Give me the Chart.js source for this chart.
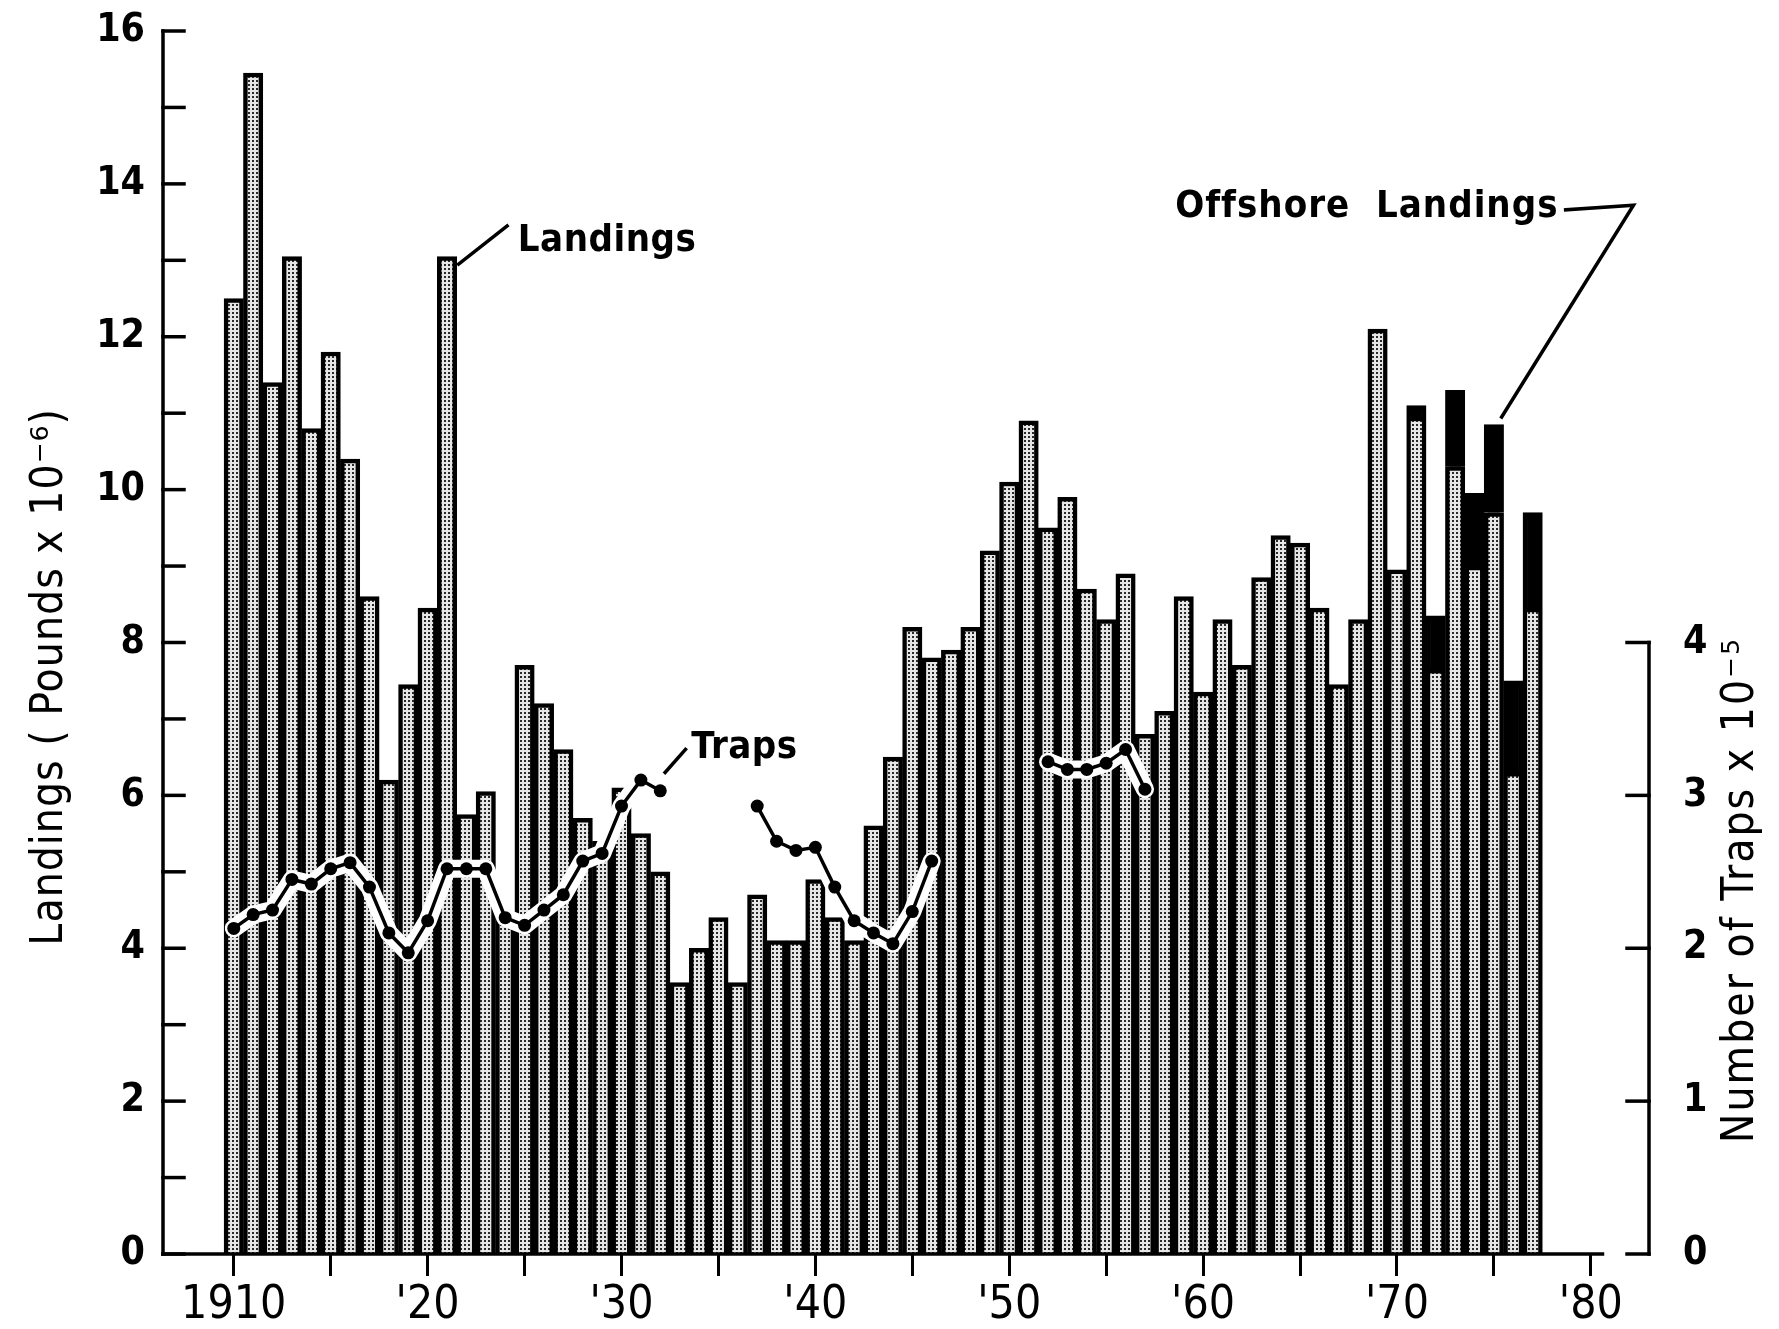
<!DOCTYPE html>
<html>
<head>
<meta charset="utf-8">
<script src="https://cdn.jsdelivr.net/npm/chart.js@4.4.0/dist/chart.umd.min.js"></script>
<style>
  html, body { margin: 0; padding: 0; background: #fff; }
  #wrap { width: 1779px; height: 1329px; }
</style>
</head>
<body>
<div id="wrap"><canvas id="chart" width="1779" height="1329"></canvas></div>
<script>
// years on the x axis
const years = [1910,1911,1912,1913,1914,1915,1916,1917,1918,1919,
               1920,1921,1922,1923,1924,1925,1926,1927,1928,1929,
               1930,1931,1932,1933,1934,1935,1936,1937,1938,1939,
               1940,1941,1942,1943,1944,1945,1946,1947,1948,1949,
               1950,1951,1952,1953,1954,1955,1956,1957,1958,1959,
               1960,1961,1962,1963,1964,1965,1966,1967,1968,1969,
               1970,1971,1972,1973,1974,1975,1976,1977];

// landings, pounds x 10^-6 (stippled part)
const landings = [12.5,15.45,11.4,13.05,10.8,11.8,10.4,8.6,6.2,7.45,
                  8.45,13.05,5.75,6.05,4.45,7.7,7.2,6.6,5.7,5.4,
                  6.1,5.5,5.0,3.55,4.0,4.4,3.55,4.7,4.1,4.1,
                  4.9,4.4,4.1,5.6,6.5,8.2,7.8,7.9,8.2,9.2,
                  10.1,10.9,9.5,9.9,8.7,8.3,8.9,6.8,7.1,8.6,
                  7.35,8.3,7.7,8.85,9.4,9.3,8.45,7.45,8.3,12.1,
                  8.95,10.95,7.65,10.3,9.0,9.7,6.3,8.45];

// offshore landings stacked on top (black)
const offshoreYears = [1971,1972,1973,1974,1975,1976,1977];
const offshore = [0.15,0.7,1.0,0.95,1.15,1.2,1.25];

// number of traps x 10^-5, gaps where no data
const traps = [2.13,2.22,2.25,2.45,2.42,2.52,2.56,2.4,2.1,1.97,
               2.18,2.52,2.52,2.52,2.2,2.15,2.25,2.35,2.57,2.62,
               2.93,3.1,3.03,null,null,null,null,2.93,2.7,2.64,
               2.66,2.4,2.18,2.1,2.03,2.24,2.57,null,null,null,
               null,null,3.22,3.17,3.17,3.21,3.3,3.04,null,null,
               null,null,null,null,null,null,null,null,null,null,
               null,null,null,null,null,null,null,null];

// tick labels
const decades = [1910,1920,1930,1940,1950,1960,1970,1980];
const decadeLabels = ["1910","'20","'30","'40","'50","'60","'70","'80"];
const landingTicks = [0,2,4,6,8,10,12,14,16];
const trapTicks = [0,1,2,3,4];

const canvas = document.getElementById("chart");
const ctx0 = canvas.getContext("2d");
const FAMILY = "'DejaVu Sans Condensed', 'DejaVu Sans', sans-serif";

/* dotted stipple like the old halftone fill */
function stipple(){
    let c = document.createElement("canvas");
    c.width = 4; c.height = 4;
    let g = c.getContext("2d");
    g.fillStyle = "#e6e6e6";
    g.fillRect(0,0,4,4);
    g.fillStyle = "#2a2a2a";
    g.fillRect(0,0,2,2);
    return ctx0.createPattern(c,"repeat");
}

const tickFont = {family:FAMILY, size:39, weight:"bold"};
const yearFont = {family:FAMILY, size:46};

let trapPoints = years.map((y,i)=>({x:y, y:traps[i]}));

/* axes, inward ticks, titles and the hand-lettered notes */
const frame = {
    id: "frame",
    afterDraw(chart){
        const {ctx, chartArea:a} = chart;
        const x = chart.scales.x, y = chart.scales.y, y2 = chart.scales.y2;
        const line = (x1,y1,x2,y2_)=>{ ctx.beginPath(); ctx.moveTo(x1,y1); ctx.lineTo(x2,y2_); ctx.stroke(); };
        const px = v=>x.getPixelForValue(v), py = v=>y.getPixelForValue(v);
        ctx.save();
        ctx.strokeStyle = "#000";
        ctx.lineWidth = 3.5;
        ctx.lineCap = "square";

        // left axis
        line(a.left, py(0), a.left, py(16));
        y.ticks.forEach(t=>{
            let ty = py(t.value);
            line(a.left, ty, a.left+21, ty);
        });
        // bottom axis
        line(a.left, py(0), px(1980.6), py(0));
        // right axis, only 0..4
        line(a.right, y2.getPixelForValue(0), a.right, y2.getPixelForValue(4));
        y2.ticks.filter(t=>t.value<=4).forEach(t=>{
            let ty = y2.getPixelForValue(t.value);
            line(a.right-22, ty, a.right, ty);
        });

        // axis titles
        ctx.fillStyle = "#000";
        ctx.textAlign = "center";
        ctx.textBaseline = "middle";
        ctx.font = "44px " + FAMILY;
        ctx.letterSpacing = "1px";
        ctx.save();
        ctx.translate(a.left-112, py(7.55));
        ctx.rotate(-Math.PI/2);
        ctx.fillText("Landings ( Pounds x 10\u207B\u2076)", 0, 0);
        ctx.restore();
        ctx.letterSpacing = "2px";
        ctx.save();
        ctx.translate(a.right+93, y2.getPixelForValue(2.38));
        ctx.rotate(-Math.PI/2);
        ctx.fillText("Number of Traps x 10\u207B\u2075", 0, 0);
        ctx.restore();

        // notes
        ctx.textAlign = "left";
        ctx.font = "bold 38px " + FAMILY;
        ctx.letterSpacing = "0.5px";
        ctx.fillText("Landings", px(1924.65), py(13.25));
        line(px(1921.6), py(12.95), px(1924.1), py(13.45));

        ctx.fillText("Traps", px(1933.6), py(6.62));
        line(px(1932.25), py(6.3), px(1933.3), py(6.6));

        ctx.letterSpacing = "1px";
        ctx.fillText("Offshore  Landings", px(1958.56), py(13.7));
        ctx.beginPath();
        ctx.moveTo(px(1978.7), py(13.66));
        ctx.lineTo(px(1982.2), py(13.72));
        ctx.lineTo(px(1975.4), py(10.95));
        ctx.stroke();
        ctx.restore();
    }
};

new Chart(canvas, {
    data: {
        datasets: [
            {
                type: "line",
                label: "Traps",
                data: trapPoints,
                yAxisID: "y2",
                borderColor: "#000",
                borderWidth: 3.5,
                pointRadius: 6.5,
                pointBackgroundColor: "#000",
                pointBorderWidth: 0,
                spanGaps: false,
                order: 0
            },
            {
                type: "line",
                label: "halo",
                data: trapPoints,
                yAxisID: "y2",
                borderColor: "#fff",
                borderWidth: 18,
                borderCapStyle: "round",
                borderJoinStyle: "round",
                pointRadius: 0,
                spanGaps: false,
                order: 1
            },
            {
                type: "bar",
                label: "Landings",
                data: years.map((y,i)=>({x:y, y:landings[i]})),
                yAxisID: "y",
                backgroundColor: stipple(),
                borderColor: "#000",
                borderWidth: 4.5,
                borderSkipped: "bottom",
                barPercentage: 1,
                categoryPercentage: 1,
                order: 2
            },
            {
                type: "bar",
                label: "Offshore Landings",
                data: offshoreYears.map((y,i)=>({x:y, y:offshore[i]})),
                yAxisID: "y",
                backgroundColor: "#000",
                borderColor: "#000",
                borderWidth: 4.5,
                borderSkipped: "bottom",
                barPercentage: 1,
                categoryPercentage: 1,
                order: 3
            }
        ]
    },
    options: {
        responsive: false,
        animation: false,
        layout: { padding: { top: 31, left: 0, right: 0, bottom: 0 } },
        plugins: { legend: { display: false }, tooltip: { enabled: false } },
        scales: {
            x: {
                type: "linear",
                min: 1906.35,
                max: 1983,
                offset: false,
                stacked: true,
                ticks: {
                    stepSize: 5,
                    includeBounds: false,
                    autoSkip: false,
                    maxRotation: 0,
                    color: "#000",
                    font: yearFont,
                    padding: 2,
                    callback: v => { let k = decades.indexOf(v); return k >= 0 ? decadeLabels[k] : ""; }
                },
                grid: { display: true, offset: false, drawOnChartArea: false, drawTicks: true, tickLength: 22, color: "#000", lineWidth: 3 },
                border: { display: false },
                afterFit(s){ s.height = 75; s.paddingLeft = 0; s.paddingRight = 0; }
            },
            y: {
                position: "left",
                min: 0,
                max: 16,
                stacked: true,
                ticks: {
                    stepSize: 1,
                    autoSkip: false,
                    color: "#000",
                    font: tickFont,
                    padding: 18,
                    callback: v => landingTicks.includes(v) ? v : ""
                },
                grid: { display: false, drawTicks: false },
                border: { display: false },
                afterFit(s){ s.width = 163; s.paddingTop = 0; s.paddingBottom = 0; }
            },
            y2: {
                position: "right",
                min: 0,
                max: 8,
                ticks: {
                    stepSize: 1,
                    autoSkip: false,
                    color: "#000",
                    font: tickFont,
                    padding: 34,
                    callback: v => trapTicks.includes(v) ? v : ""
                },
                grid: { display: false, drawTicks: false },
                border: { display: false },
                afterFit(s){ s.width = 130; s.paddingTop = 0; s.paddingBottom = 0; }
            }
        }
    },
    plugins: [frame]
});
</script>
</body>
</html>
